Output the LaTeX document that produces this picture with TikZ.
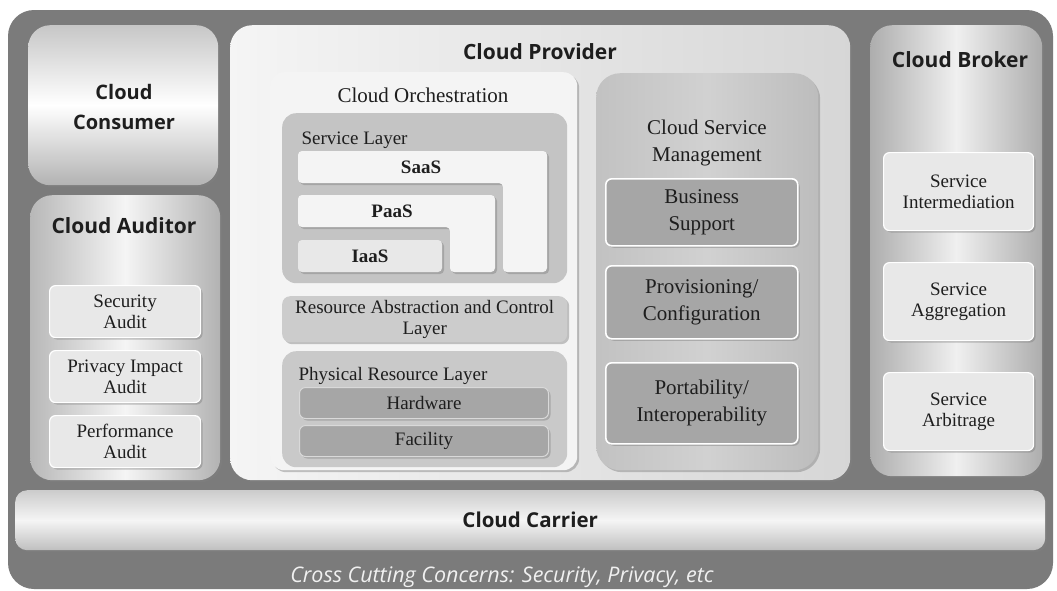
\documentclass[tikz,border=0pt]{standalone}
\usepackage{fontspec}
\setmainfont{Liberation Serif}
\newfontfamily\headfont{Open Sans}
\usetikzlibrary{shadows}

\definecolor{framegray}{HTML}{7B7B7B}
\definecolor{lightpanel}{HTML}{F4F4F4}
\definecolor{midpanel}{HTML}{C4C4C4}
\definecolor{darkpanel}{HTML}{A6A6A6}
\definecolor{softbox}{HTML}{E8E8E8}
\definecolor{inktext}{HTML}{1E1E1E}

\tikzset{
  softshadow/.style={drop shadow={opacity=0.45,shadow xshift=2pt,shadow yshift=-2pt}},
  role/.style={rounded corners=22pt,softshadow,anchor=north west,inner sep=0pt},
  panel/.style={rounded corners=14pt,anchor=north west,inner sep=0pt},
  plate/.style={rounded corners=6pt,anchor=north west,inner sep=0pt,softshadow},
  greyplate/.style={plate,fill=darkpanel,draw=white,line width=1.6pt},
  lightplate/.style={plate,fill=softbox,draw=white,line width=1.2pt},
  heading/.style={font=\headfont\bfseries\fontsize{21}{24}\selectfont,text=inktext},
  serif/.style={font=\fontsize{19}{21}\selectfont,text=inktext,align=center},
  serifbig/.style={font=\fontsize{21}{27}\selectfont,text=inktext,align=center},
  serifbold/.style={font=\bfseries\fontsize{19}{21}\selectfont,text=inktext},
}

\begin{document}
\begin{tikzpicture}[x=1pt,y=-1pt]
\useasboundingbox[fill=white] (0,0) rectangle (1057,590);

% outer frame holding all roles
\draw[fill=framegray,draw=none,rounded corners=26pt] (8,10) rectangle (1053,589);

% ---- Cloud Consumer ----
\node[role,minimum width=190pt,minimum height=160pt,top color=black!22,bottom color=black!30,middle color=white] (consumer) at (28,25) {};
\node[heading,font=\headfont\bfseries\fontsize{20}{24}\selectfont,align=center] (consumerT) at (124,107) {Cloud\\[6pt]Consumer};

% ---- Cloud Auditor ----
\node[role,minimum width=190pt,minimum height=285pt,left color=black!28,right color=black!30,middle color=black!4] (auditor) at (30,195) {};
\node[heading] (auditorT) at (124,226) {Cloud Auditor};
\node[lightplate,minimum width=151pt,minimum height=52pt] (secaudit) at (49,285) {};
\node[serif] at (secaudit.center) {Security\\Audit};
\node[lightplate,minimum width=151pt,minimum height=52pt] (privaudit) at (49,350) {};
\node[serif] at (privaudit.center) {Privacy Impact\\Audit};
\node[lightplate,minimum width=151pt,minimum height=52pt] (perfaudit) at (49,415) {};
\node[serif] at (perfaudit.center) {Performance\\Audit};

% ---- Cloud Provider ----
\node[role,minimum width=620pt,minimum height=455pt,left color=black!4,right color=black!16] (provider) at (230,25) {};
\node[heading] (providerT) at (540,52) {Cloud Provider};

% Cloud Orchestration
\node[panel,minimum width=307pt,minimum height=398pt,fill=lightpanel,softshadow] (orch) at (270,72) {};
\node[serifbig] (orchT) at (423,95) {Cloud Orchestration};

% Service layer with the SaaS / PaaS / IaaS stack
\node[panel,minimum width=285pt,minimum height=170pt,fill=midpanel] (svclayer) at (282,113) {};
\node[serif,anchor=west] (svcT) at (298,140) {Service Layer};
\path[fill=lightpanel,rounded corners=4pt,softshadow]
  (298,151) -- (547,151) -- (547,272) -- (503,272) -- (503,183) -- (298,183) -- cycle;
\path[fill=lightpanel,rounded corners=4pt,softshadow]
  (298,195) -- (495,195) -- (495,272) -- (450,272) -- (450,227) -- (298,227) -- cycle;
\path[fill=softbox,rounded corners=4pt,softshadow] (298,240) rectangle (442,272);
\node[serifbold] (saas) at (421,167) {SaaS};
\node[serifbold] (paas) at (392,211) {PaaS};
\node[serifbold] (iaas) at (370,256) {IaaS};

% Resource abstraction and control layer
\node[panel,rounded corners=8pt,minimum width=285pt,minimum height=46pt,fill=black!20,softshadow] (racl) at (282,296) {};
\node[serif] at (racl.center) {Resource Abstraction and Control\\Layer};

% Physical resource layer
\node[panel,minimum width=285pt,minimum height=116pt,fill=black!21] (phys) at (282,351) {};
\node[serif,anchor=west] (physT) at (295,376) {Physical Resource Layer};
\node[plate,minimum width=249pt,minimum height=31pt,fill=darkpanel,draw=white!85!black,line width=1pt] (hw) at (299,387) {};
\node[serif] at (hw.center) {Hardware};
\node[plate,minimum width=249pt,minimum height=31pt,fill=darkpanel,draw=white!85!black,line width=1pt] (fac) at (299,425) {};
\node[serif] at (fac.center) {Facility};

% Cloud Service Management
\node[panel,rounded corners=24pt,minimum width=222pt,minimum height=397pt,left color=black!24,right color=black!26,middle color=black!18,softshadow] (csm) at (596,73) {};
\node[serifbig] (csmT) at (707,143) {Cloud Service\\Management};
\node[greyplate,minimum width=192pt,minimum height=67pt] (bizsup) at (605,178) {};
\node[serifbig] at (bizsup.center) {Business\\Support};
\node[greyplate,minimum width=192pt,minimum height=73pt] (prov) at (605,265) {};
\node[serifbig] at (prov.center) {Provisioning/\\Configuration};
\node[greyplate,minimum width=192pt,minimum height=81pt] (port) at (605,362) {};
\node[serifbig] at (port.center) {Portability/\\Interoperability};

% ---- Cloud Broker ----
\node[role,minimum width=172pt,minimum height=451pt,left color=black!32,right color=black!32,middle color=black!6] (broker) at (870,25) {};
\node[heading] (brokerT) at (960,60) {Cloud Broker};
\node[lightplate,minimum width=150pt,minimum height=78pt] (inter) at (883,152) {};
\node[serif] at (inter.center) {Service\\Intermediation};
\node[lightplate,minimum width=150pt,minimum height=78pt] (aggr) at (883,262) {};
\node[serif] at (aggr.center) {Service\\Aggregation};
\node[lightplate,minimum width=150pt,minimum height=78pt] (arb) at (883,372) {};
\node[serif] at (arb.center) {Service\\Arbitrage};

% ---- Cloud Carrier ----
\node[role,rounded corners=12pt,minimum width=1030pt,minimum height=60pt,top color=black!20,bottom color=black!25,middle color=black!4] (carrier) at (15,490) {};
\node[heading,font=\headfont\bfseries\fontsize{20.5}{24}\selectfont] (carrierT) at (carrier.center) {Cloud Carrier};

% cross-cutting concerns caption
\node[font=\headfont\itshape\fontsize{21.5}{24}\selectfont,text=white!94!black] (cross) at (502,577) {Cross Cutting Concerns: Security, Privacy, etc};
\end{tikzpicture}
\end{document}
